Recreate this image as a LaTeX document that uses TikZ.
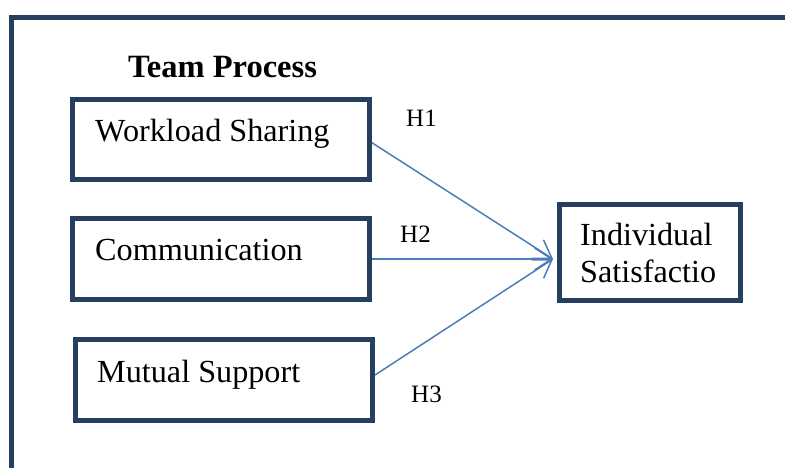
\documentclass[tikz,border=0pt]{standalone}
\usepackage{fontspec}
\setmainfont{Liberation Serif}
\usetikzlibrary{arrows.meta}
\definecolor{navy}{HTML}{243F60}
\definecolor{arrblue}{HTML}{4A7EBB}
\begin{document}
\begin{tikzpicture}[x=1pt,y=-1pt,
  box/.style={draw=navy, line width=5pt, rectangle, inner sep=0pt},
  lbl/.style={anchor=base west, inner sep=0pt, font=\fontsize{32.2}{36}\selectfont},
  hyp/.style={anchor=base west, inner sep=0pt, font=\fontsize{25}{30}\selectfont},
  link/.style={draw=arrblue, line width=1.5pt, -{Straight Barb[length=17pt,width=22pt,line width=1.5pt]}}]
\useasboundingbox (0,0) rectangle (785,468);
\fill[white] (0,0) rectangle (785,468);
\draw[navy, line width=5pt, line join=miter] (11,475) -- (11,17.5) -- (795,17.5);
% boxes
\node[box, minimum width=297.5pt, minimum height=80.5pt] (ws) at (220.75,139.75) {};
\node[box, minimum width=297pt, minimum height=81pt] (comm) at (221,259) {};
\node[box, minimum width=297pt, minimum height=81pt] (ms) at (224,380) {};
\node[box, minimum width=181pt, minimum height=96pt] (sat) at (650,252.5) {};
% texts
\node[lbl, font=\fontsize{32.5}{36}\selectfont\bfseries] (title) at (128,78) {Team Process};
\node[lbl] (wst) at (95,142) {Workload Sharing};
\node[lbl] (commt) at (95,260) {Communication};
\node[lbl] (mst) at (97,382) {Mutual Support};
\node[lbl] (sat1) at (580,245) {Individual};
\node[lbl] (sat2) at (580,282) {Satisfactio};
\node[hyp] (h1) at (406,127) {H1};
\node[hyp] (h2) at (400,243) {H2};
\node[hyp] (h3) at (411,402) {H3};
% connectors
\coordinate (tip) at ([xshift=-4pt,yshift=-6.5pt]sat.west);
\draw[link] ([yshift=-3pt]ws.east) -- (tip);
\draw[link] (comm.east) -- (tip);
\draw[link] ([yshift=5pt]ms.east) -- (tip);
\end{tikzpicture}
\end{document}
